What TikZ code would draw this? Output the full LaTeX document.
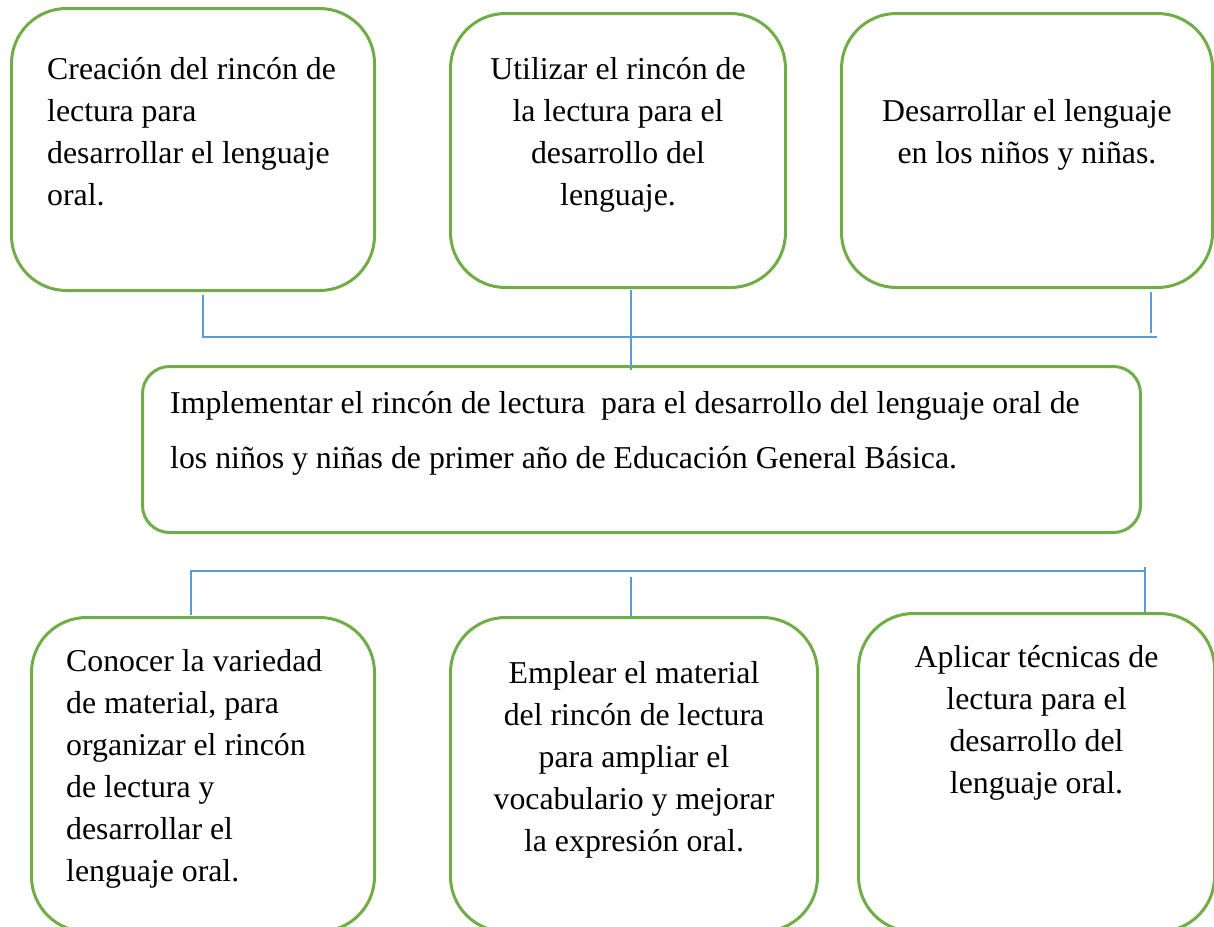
\documentclass[tikz,border=0pt]{standalone}
\usepackage{fontspec}
\setmainfont{Liberation Serif}
\usetikzlibrary{calc}

\definecolor{boxgreen}{HTML}{70AD47}
\definecolor{linkblue}{HTML}{5B9BD5}

\tikzset{
  box/.style={rectangle,draw=boxgreen,line width=3pt,rounded corners=55pt,anchor=north west,inner sep=0pt},
  txt/.style={inner sep=0pt,font=\fontsize{31.8}{42}\selectfont},
  link/.style={draw=linkblue,line width=1.2pt}
}

\begin{document}
\begin{tikzpicture}[x=1pt,y=-1pt]
\useasboundingbox (0,0) rectangle (1214,926);

% upper boxes
\node [box,minimum width=363pt,minimum height=282pt] (e1) at (10,7) {};
\node [box,minimum width=335pt,minimum height=274pt] (e2) at (449,12) {};
\node [box,minimum width=371pt,minimum height=274pt] (e3) at (840,12) {};
\node [txt,anchor=north west,align=left] (te1) at ($(e1.north west)+(37,50)$)
	{Creación del rincón de\\lectura para\\desarrollar el lenguaje\\oral.};
\node [txt,anchor=north,align=center] (te2) at ($(e2.north)+(0,45)$)
	{Utilizar el rincón de\\la lectura para el\\desarrollo del\\lenguaje.};
\node [txt,anchor=north,align=center] (te3) at ($(e3.north)+(0,87)$)
	{Desarrollar el lenguaje\\en los niños y niñas.};

% general objective
\node [box,rounded corners=27pt,minimum width=998pt,minimum height=166pt] (gen) at (141,365) {};
\node [txt,anchor=north west,align=left,font=\fontsize{31.8}{55}\selectfont] (tgen) at ($(gen.north west)+(29,26)$)
	{Implementar el rincón de lectura\ \ para el desarrollo del lenguaje oral de\\los niños y niñas de primer año de Educación General Básica.};

% lower boxes
\node [box,minimum width=343pt,minimum height=314pt] (f1) at (30,616) {};
\node [box,minimum width=367pt,minimum height=314pt] (f2) at (449,616) {};
\node [box,minimum width=356pt,minimum height=318pt] (f3) at (857,612) {};
\node [txt,anchor=north west,align=left] (tf1) at ($(f1.north west)+(36,33)$)
	{Conocer la variedad\\de material, para\\organizar el rincón\\de lectura y\\desarrollar el\\lenguaje oral.};
\node [txt,anchor=north,align=center] (tf2) at ($(f2.north)+(0,45)$)
	{Emplear el material\\del rincón de lectura\\para ampliar el\\vocabulario y mejorar\\la expresión oral.};
\node [txt,anchor=north,align=center] (tf3) at ($(f3.north)+(0,33)$)
	{Aplicar técnicas de\\lectura para el\\desarrollo del\\lenguaje oral.};

% brackets
\coordinate (up1) at (203,295);
\coordinate (up2) at (631,290);
\coordinate (up3) at (1151,292);
\coordinate (upR) at (1157,337);
\draw[link] (up1) |- (upR);
\draw[link] (up2) -- (up2 |- gen.north) -- ++(0,5);
\draw[link] (up3) -- ++(0,41);

\coordinate (dn1) at (191,615);
\coordinate (dn2) at (631,577);
\coordinate (dnR) at (1145,571);
\draw[link] (dn1) |- (dnR);
\draw[link] (dn2) -- (dn2 |- f2.north) -- ++(0,-4);
\draw[link] (dnR) ++(0,-4) -- (dnR |- f3.north);
\end{tikzpicture}
\end{document}
